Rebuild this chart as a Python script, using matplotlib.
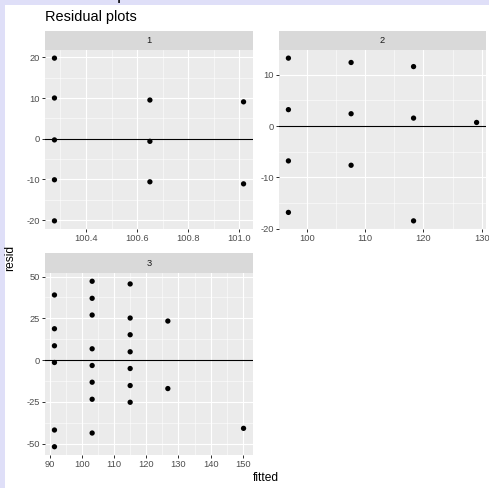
import matplotlib
matplotlib.use("Agg")
import matplotlib.pyplot as plt
import numpy as np

plt.rcParams['font.family'] = ['Liberation Sans', 'DejaVu Sans']

# ---- data ----
panel_labels = ["1", "2", "3"]

fitted1 = [100.277]*5 + [100.65]*3 + [101.016]*2
resid1 = [19.8, 10.0, -0.3, -10.1, -20.2, 9.5, -0.65, -10.6, 9.06, -11.1]

fitted2 = [96.86]*4 + [107.6]*3 + [118.3]*3 + [129.1]
resid2 = [13.25, 3.2, -6.8, -16.85, 12.4, 2.4, -7.65, 11.6, 1.55, -18.5, 0.7]

fitted3 = [91.5]*6 + [103.2]*8 + [115.0]*7 + [126.7]*2 + [150.2]
resid3 = [39.0, 18.8, 8.6, -1.4, -41.8, -51.8,
          47.2, 37.0, 27.0, 6.8, -3.2, -13.2, -23.4, -43.6,
          45.6, 25.2, 15.2, 5.0, -5.0, -15.2, -25.2,
          23.4, -17.0,
          -40.8]

x_major = [[100.4, 100.6, 100.8, 101.0], [100, 110, 120, 130], [90, 100, 110, 120, 130, 140, 150]]
x_ticklabels = [["100.4", "100.6", "100.8", "101.0"], ["100", "110", "120", "130"],
                ["90", "100", "110", "120", "130", "140", "150"]]
y_major = [[-20, -10, 0, 10, 20], [-20, -10, 0, 10], [-50, -25, 0, 25, 50]]
y_ticklabels = [["-20", "-10", "0", "10", "20"], ["-20", "-10", "0", "10"], ["-50", "-25", "0", "25", "50"]]

title = "Residual plots"
xlab = "fitted"
ylab = "resid"

# ---- figure ----
W, H = 489, 488
fig = plt.figure(figsize=(W/72, H/72), dpi=72)
fig.patch.set_facecolor('#DFDFF8')
bg = fig.add_axes([5/W, 0, 1 - 5/W, 1 - 5/H], zorder=-10)
bg.set_facecolor('white')
bg.set_xticks([]); bg.set_yticks([])
for s in bg.spines.values():
    s.set_visible(False)

def fx(px):
    return px / W

def fy(py):
    return 1 - py / H

# cut-off descender of a heading above the image
fig.text(fx(116.5), fy(-1), "p", ha='left', va='baseline', fontsize=19, color='black')

# panel boxes in pixels: (left, top, right, bottom, strip top)
boxes = [(45, 50, 253, 229, 31), (279, 50, 486, 229, 31), (45, 273, 253, 455, 253)]
data = [(fitted1, resid1), (fitted2, resid2), (fitted3, resid3)]

def expand(vals, f=0.05):
    lo, hi = min(vals), max(vals)
    r = hi - lo
    return lo - f*r, hi + f*r

tick_col = '#4D4D4D'
for i, ((l, t, r, b, st), (xv, yv)) in enumerate(zip(boxes, data)):
    ax = fig.add_axes([fx(l), fy(b), fx(r) - fx(l), fy(t) - fy(b)])
    ax.set_facecolor('#EBEBEB')
    for s in ax.spines.values():
        s.set_visible(False)
    xlim = expand(xv)
    ylim = expand(yv)
    ax.set_xlim(*xlim)
    ax.set_ylim(*ylim)
    xm = x_major[i]
    ym = y_major[i]
    dx = xm[1] - xm[0]
    dy = ym[1] - ym[0]
    xminor = [v for v in np.arange(xm[0] - dx/2, xm[-1] + dx, dx) if xlim[0] < v < xlim[1]]
    yminor = [v for v in np.arange(ym[0] - dy/2, ym[-1] + dy, dy) if ylim[0] < v < ylim[1]]
    for v in xminor:
        ax.axvline(v, color='white', lw=0.55, zorder=0.5)
    for v in yminor:
        ax.axhline(v, color='white', lw=0.55, zorder=0.5)
    for v in xm:
        ax.axvline(v, color='white', lw=1.1, zorder=0.6)
    for v in ym:
        ax.axhline(v, color='white', lw=1.1, zorder=0.6)
    ax.set_xticks(xm)
    ax.set_xticklabels(x_ticklabels[i])
    ax.set_yticks(ym)
    ax.set_yticklabels(y_ticklabels[i])
    ax.tick_params(axis='both', which='major', length=2.75, width=1.0, color='#333333',
                   labelcolor=tick_col, labelsize=9.2, pad=2)
    ax.axhline(0, color='black', lw=1.1, zorder=2)
    ax.scatter(xv, yv, s=28, color='black', edgecolors='none', zorder=3)
    # strip
    sax = fig.add_axes([fx(l), fy(t), fx(r) - fx(l), fy(st) - fy(t)])
    sax.set_facecolor('#D9D9D9')
    sax.set_xticks([]); sax.set_yticks([])
    for s in sax.spines.values():
        s.set_visible(False)
    sax.text(0.5, 0.5, panel_labels[i], ha='center', va='center', fontsize=9.2,
             color='#1A1A1A', transform=sax.transAxes)

fig.text(fx(45), fy(21), title, ha='left', va='baseline', fontsize=14.5, color='black')
fig.text(fx(265.5), fy(478), xlab, ha='center', va='center', fontsize=12, color='black')
fig.text(fx(10), fy(258), ylab, ha='center', va='center', rotation=90, fontsize=12, color='black')

fig.savefig('out.png', dpi=72)
